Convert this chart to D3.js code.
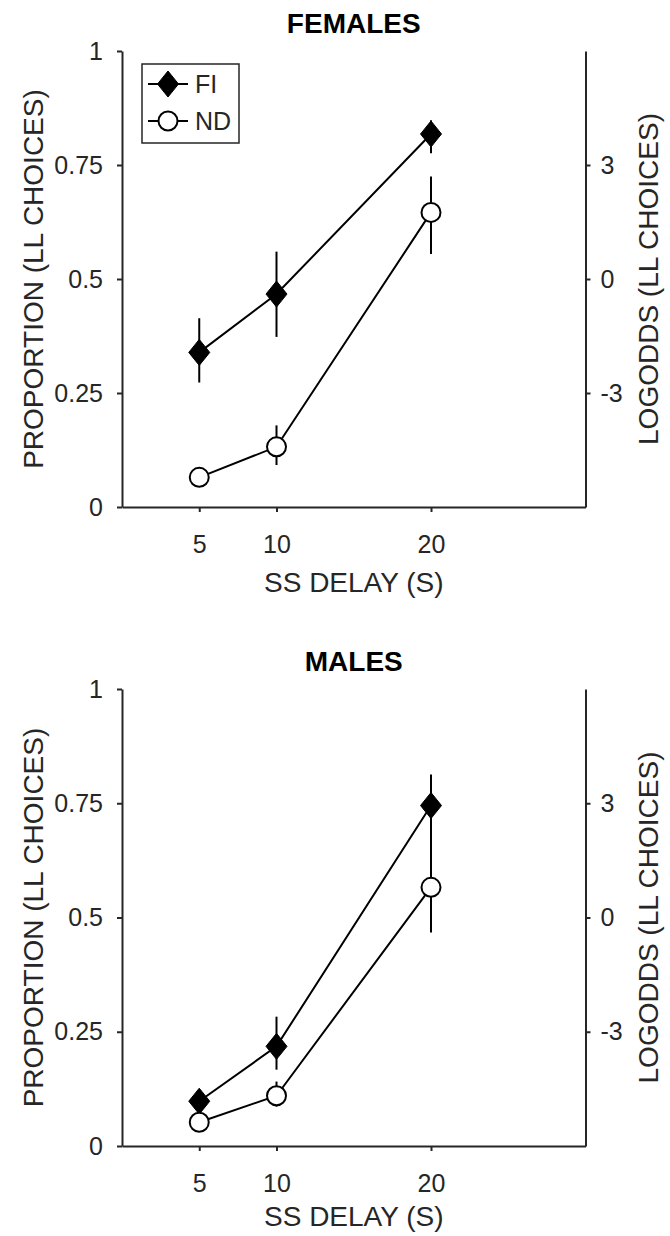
<!DOCTYPE html>
<html>
<head>
<meta charset="utf-8">
<script src="https://cdn.jsdelivr.net/npm/d3@7"></script>
<style>
  body { margin: 0; background: #fff; }
  svg { display: block; font-family: "Liberation Sans", Arial, sans-serif; }
  .axis path, .axis line { stroke: #262626; stroke-width: 2; }
  .axis text { fill: #262626; font-size: 25px; font-family: "Liberation Sans", Arial, sans-serif; }
  .label { fill: #262626; font-size: 28px; }
  .title { fill: #000; font-size: 28px; font-weight: bold; }
  .legend text { fill: #262626; font-size: 25px; }
</style>
</head>
<body>
<svg id="chart" width="670" height="1236"></svg>
<script>
const DELAYS = [5, 10, 20];
const X_TICKS = [5, 10, 20];
const Y_TICKS = [0, 0.25, 0.5, 0.75, 1];
const LOGODDS_TICKS = [-3, 0, 3];
const GROUPS = ["FI", "ND"];

// females: mean proportion of LL choices, lower and upper error bounds
const FEMALE_FI = [0.339, 0.467, 0.818];
const FEMALE_FI_LO = [0.273, 0.373, 0.776];
const FEMALE_FI_HI = [0.414, 0.56, 0.848];
const FEMALE_ND = [0.065, 0.132, 0.646];
const FEMALE_ND_LO = [0.058, 0.092, 0.555];
const FEMALE_ND_HI = [0.073, 0.179, 0.725];

// males
const MALE_FI = [0.098, 0.218, 0.745];
const MALE_FI_LO = [0.085, 0.167, 0.66];
const MALE_FI_HI = [0.11, 0.283, 0.813];
const MALE_ND = [0.052, 0.11, 0.566];
const MALE_ND_LO = [0.045, 0.086, 0.467];
const MALE_ND_HI = [0.058, 0.141, 0.665];

const svgRoot = d3.select("#chart");

// diamond marker, a bit taller than wide like matlab's
function diamondPath(hw, hh) {
  return `M0,${-hh}L${hw},0L0,${hh}L${-hw},0Z`;
}

// draw a marker of the given group at the origin of g
function drawMarker(g, group) {
  if (group === "FI") {
    g.append("path")
      .attr("d", diamondPath(10.5, 13))
      .attr("fill", "#000")
      .attr("stroke", "#000")
      .attr("stroke-width", 1);
  } else {
    g.append("circle")
      .attr("r", 9.5)
      .attr("fill", "#fff")
      .attr("stroke", "#000")
      .attr("stroke-width", 2);
  }
}

// set up axes, labels and title of one panel
function setupPanel(svg, title, config) {
  // SS delay scale (x-axis)
  const xScale = d3.scaleLinear().domain([0, 30]).range([0, config.width]);

  // proportion scale (left y-axis)
  const yScale = d3.scaleLinear().domain([0, 1]).range([config.height, 0]);

  // logodds scale (right y-axis), same span as the proportion axis
  const logScale = d3.scaleLinear().domain([-6, 6]).range([config.height, 0]);

  svg
    .append("g")
    .attr("class", "axis axis-x")
    .attr("transform", `translate(0, ${config.height})`)
    .call(
      d3
        .axisBottom(xScale)
        .tickValues(X_TICKS)
        .tickSize(5)
        .tickSizeOuter(0)
        .tickPadding(23)
    );

  svg
    .append("g")
    .attr("class", "axis axis-y")
    .call(
      d3
        .axisLeft(yScale)
        .tickValues(Y_TICKS)
        .tickFormat((d) => String(d))
        .tickSize(5)
        .tickSizeOuter(0)
        .tickPadding(14)
    );

  svg
    .append("g")
    .attr("class", "axis axis-y2")
    .attr("transform", `translate(${config.width}, 0)`)
    .call(
      d3
        .axisRight(logScale)
        .tickValues(LOGODDS_TICKS)
        .tickFormat((d) => String(d))
        .tickSize(5)
        .tickSizeOuter(0)
        .tickPadding(10)
    );

  // title
  svg
    .append("text")
    .attr("class", "title")
    .attr("text-anchor", "middle")
    .attr("x", config.width / 2)
    .attr("y", -18)
    .text(title);

  // x-axis label
  svg
    .append("text")
    .attr("class", "label label-x")
    .attr("text-anchor", "middle")
    .attr("x", config.width / 2)
    .attr("y", config.height + config.labelGap)
    .text("SS DELAY (S)");

  // left y-axis label
  svg
    .append("text")
    .attr("class", "label label-y")
    .attr("text-anchor", "middle")
    .attr("transform", `translate(-79, ${config.height / 2}) rotate(-90)`)
    .text("PROPORTION (LL CHOICES)");

  // right y-axis label
  svg
    .append("text")
    .attr("class", "label label-y2")
    .attr("text-anchor", "middle")
    .attr(
      "transform",
      `translate(${config.width + 72}, ${config.height / 2}) rotate(-90)`
    )
    .text("LOGODDS (LL CHOICES)");

  return { xScale, yScale };
}

// line, error bars and markers of one group
function drawSeries(svg, series, group, scales) {
  const [values, lows, highs] = series;
  const data = DELAYS.map((delay, i) => ({
    delay,
    value: values[i],
    lo: lows[i],
    hi: highs[i],
  }));

  svg
    .append("path")
    .datum(data)
    .attr("fill", "none")
    .attr("stroke", "#000")
    .attr("stroke-width", 2)
    .attr(
      "d",
      d3
        .line()
        .x((d) => scales.xScale(d.delay))
        .y((d) => scales.yScale(d.value))
    );

  svg
    .selectAll(null)
    .data(data)
    .join("line")
    .attr("stroke", "#000")
    .attr("stroke-width", 2)
    .attr("x1", (d) => scales.xScale(d.delay))
    .attr("x2", (d) => scales.xScale(d.delay))
    .attr("y1", (d) => scales.yScale(d.lo))
    .attr("y2", (d) => scales.yScale(d.hi));

  svg
    .selectAll(null)
    .data(data)
    .join("g")
    .attr(
      "transform",
      (d) => `translate(${scales.xScale(d.delay)}, ${scales.yScale(d.value)})`
    )
    .each(function () {
      drawMarker(d3.select(this), group);
    });
}

// legend box in the upper left corner
function drawLegend(svg) {
  const legend = svg
    .append("g")
    .attr("class", "legend")
    .attr("transform", "translate(20, 13)");

  legend
    .append("rect")
    .attr("width", 97)
    .attr("height", 79)
    .attr("fill", "#fff")
    .attr("stroke", "#262626")
    .attr("stroke-width", 1.5);

  GROUPS.forEach((group, i) => {
    const row = legend
      .append("g")
      .attr("transform", `translate(0, ${20 + i * 37})`);
    row
      .append("line")
      .attr("x1", 6)
      .attr("x2", 46)
      .attr("stroke", "#000")
      .attr("stroke-width", 2);
    drawMarker(row.append("g").attr("transform", "translate(26, 0)"), group);
    row
      .append("text")
      .attr("x", 53)
      .attr("dy", "0.36em")
      .text(group);
  });
}

const PANELS = [
  {
    title: "FEMALES",
    top: 51,
    height: 456,
    labelGap: 85,
    fi: [FEMALE_FI, FEMALE_FI_LO, FEMALE_FI_HI],
    nd: [FEMALE_ND, FEMALE_ND_LO, FEMALE_ND_HI],
    legend: true,
  },
  {
    title: "MALES",
    top: 689,
    height: 457,
    labelGap: 80,
    fi: [MALE_FI, MALE_FI_LO, MALE_FI_HI],
    nd: [MALE_ND, MALE_ND_LO, MALE_ND_HI],
    legend: false,
  },
];

PANELS.forEach((panel) => {
  const config = {
    width: 463.5,
    height: panel.height,
    labelGap: panel.labelGap,
  };
  const svg = svgRoot
    .append("g")
    .attr("transform", `translate(122, ${panel.top})`);
  const scales = setupPanel(svg, panel.title, config);
  drawSeries(svg, panel.fi, "FI", scales);
  drawSeries(svg, panel.nd, "ND", scales);
  if (panel.legend) drawLegend(svg);
});
</script>
</body>
</html>
